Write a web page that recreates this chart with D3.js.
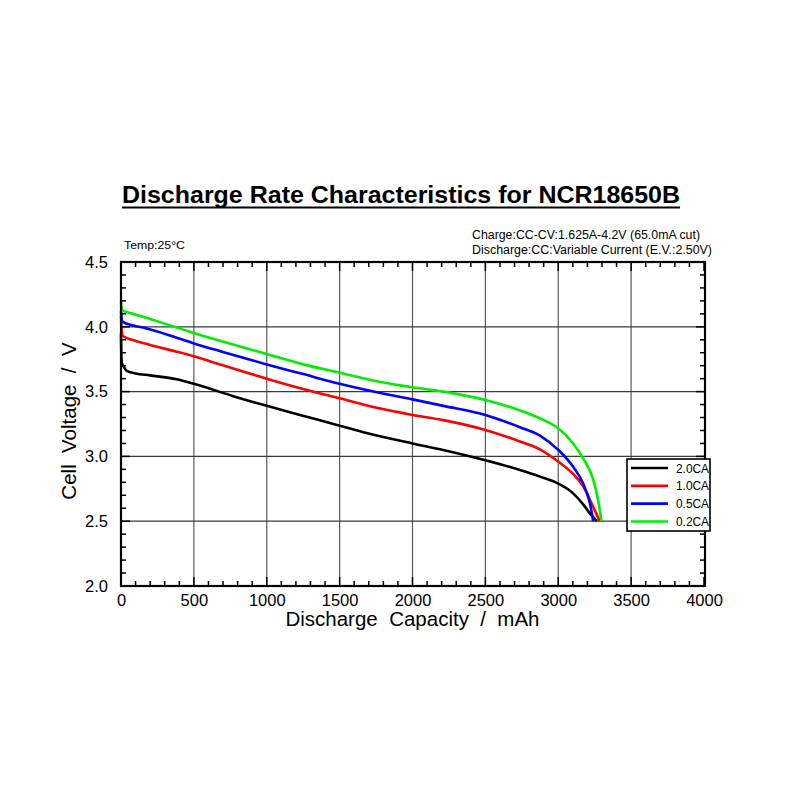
<!DOCTYPE html>
<html>
<head>
<meta charset="utf-8">
<script src="https://cdn.jsdelivr.net/npm/d3@7"></script>
<style>
  html, body { margin: 0; padding: 0; background: #fff; }
  svg { display: block; font-family: "Liberation Sans", Arial, sans-serif; }
</style>
</head>
<body>
<svg id="chart" width="800" height="800"></svg>
<script>
// ---- data ----
const seriesNames = ["2.0CA", "1.0CA", "0.5CA", "0.2CA"];
const seriesColors = ["#000000", "#ff0000", "#0000ff", "#00ee00"];

const capacity2C = [0, 2, 6, 20, 39, 100, 199, 382, 500, 770, 1000, 1228, 1500, 1685, 2000, 2211, 2500, 2737, 2874, 3000, 3102, 3171, 3217, 3265];
const voltage2C  = [3.95, 3.80, 3.72, 3.69, 3.66, 3.64, 3.625, 3.595, 3.56, 3.465, 3.39, 3.32, 3.237, 3.18, 3.10, 3.05, 2.97, 2.895, 2.844, 2.79, 2.715, 2.63, 2.56, 2.50];

const capacity1C = [0, 5, 12, 75, 200, 382, 500, 693, 1000, 1250, 1500, 1754, 2000, 2211, 2500, 2737, 2874, 3000, 3102, 3171, 3240, 3285];
const voltage1C  = [4.09, 3.97, 3.93, 3.90, 3.86, 3.808, 3.772, 3.705, 3.60, 3.52, 3.448, 3.375, 3.32, 3.28, 3.204, 3.115, 3.055, 2.96, 2.865, 2.77, 2.61, 2.50];

const capacity05C = [0, 3, 10, 84, 165, 382, 500, 693, 1000, 1250, 1500, 1754, 2000, 2211, 2500, 2737, 2874, 3000, 3102, 3171, 3217, 3240];
const voltage05C  = [4.12, 4.08, 4.04, 4.01, 3.99, 3.915, 3.872, 3.808, 3.71, 3.635, 3.56, 3.495, 3.44, 3.39, 3.32, 3.225, 3.16, 3.05, 2.92, 2.79, 2.64, 2.50];

const capacity02C = [0, 8, 84, 200, 382, 500, 693, 1000, 1250, 1500, 1754, 2000, 2211, 2500, 2737, 2874, 3000, 3102, 3171, 3240, 3274, 3297];
const voltage02C  = [4.19, 4.13, 4.10, 4.06, 3.995, 3.953, 3.888, 3.79, 3.71, 3.646, 3.58, 3.533, 3.50, 3.435, 3.355, 3.294, 3.217, 3.10, 2.985, 2.82, 2.66, 2.50];

const xTicks = [0, 500, 1000, 1500, 2000, 2500, 3000, 3500, 4000];
const yTicks = [2.0, 2.5, 3.0, 3.5, 4.0, 4.5];

const titleText = "Discharge Rate Characteristics for NCR18650B";
const xTitle = "Discharge  Capacity  /  mAh";
const yTitle = "Cell  Voltage  /  V";
const tempText = "Temp:25\u00B0C";
const chargeText = "Charge:CC-CV:1.625A-4.2V (65.0mA cut)";
const dischargeText = "Discharge:CC:Variable Current (E.V.:2.50V)";

const seriesCap = [capacity2C, capacity1C, capacity05C, capacity02C];
const seriesVolt = [voltage2C, voltage1C, voltage05C, voltage02C];

// ---- drawing ----
const svg = d3.select("#chart");
const x = d3.scaleLinear().domain([0, 4000]).range([121, 704]);
const y = d3.scaleLinear().domain([2.0, 4.5]).range([586, 262]);

// gridlines
const grid = svg.append("g");
grid.selectAll("line.vx").data(xTicks.slice(1, -1)).join("line")
  .attr("x1", d => x(d)).attr("x2", d => x(d))
  .attr("y1", y(2.0)).attr("y2", y(4.5))
  .attr("stroke", "#5a5a5a").attr("stroke-width", 1.2);
grid.selectAll("line.hy").data(yTicks.slice(1, -1)).join("line")
  .attr("x1", x(0)).attr("x2", x(4000))
  .attr("y1", d => y(d)).attr("y2", d => y(d))
  .attr("stroke", "#3a3a3a").attr("stroke-width", 1.2);

// curves
const line = d3.line().x(d => x(d[0])).y(d => y(d[1])).curve(d3.curveMonotoneX);
const curves = svg.append("g");
for (let i = 0; i < seriesNames.length; i++) {
  const pts = seriesCap[i].map((c, j) => [c, seriesVolt[i][j]]);
  curves.append("path").datum(pts)
    .attr("d", line)
    .attr("fill", "none")
    .attr("stroke", seriesColors[i])
    .attr("stroke-width", 2.6)
    .attr("stroke-linejoin", "round");
}

// axes (bottom, left)
const minorX = d3.range(0, 4001, 100);
const minorY = d3.range(20, 46, 1).map(v => v / 10);

const axB = d3.axisBottom(x).tickValues(xTicks).tickSize(0).tickPadding(8).tickFormat(d3.format("d"));
const gB = svg.append("g").attr("transform", `translate(0,${y(2.0)})`).call(axB);
gB.select(".domain").remove();
gB.selectAll("text").attr("font-size", "16.5px").attr("fill", "#000").attr("font-family", "Liberation Sans, Arial, sans-serif");

const axL = d3.axisLeft(y).tickValues(yTicks).tickSize(0).tickPadding(13).tickFormat(d3.format(".1f"));
const gL = svg.append("g").attr("transform", `translate(${x(0)},0)`).call(axL);
gL.select(".domain").remove();
gL.selectAll("text").attr("font-size", "16.5px").attr("fill", "#000").attr("font-family", "Liberation Sans, Arial, sans-serif");

// minor ticks (inward)
const tk = svg.append("g").attr("stroke", "#000").attr("stroke-width", 1.5);
tk.selectAll("line.bt").data(minorX).join("line")
  .attr("x1", d => x(d)).attr("x2", d => x(d))
  .attr("y1", y(2.0)).attr("y2", d => y(2.0) - (d % 500 === 0 ? 9 : 5));
tk.selectAll("line.tt").data(minorX).join("line")
  .attr("x1", d => x(d)).attr("x2", d => x(d))
  .attr("y1", y(4.5)).attr("y2", d => y(4.5) + (d % 500 === 0 ? 9 : 5));
tk.selectAll("line.lt").data(minorY).join("line")
  .attr("x1", x(0)).attr("x2", d => x(0) + (Math.round(d * 10) % 5 === 0 ? 9 : 5))
  .attr("y1", d => y(d)).attr("y2", d => y(d));
tk.selectAll("line.rt").data(minorY).join("line")
  .attr("x1", x(4000) + 1).attr("x2", d => x(4000) + 1 - (Math.round(d * 10) % 5 === 0 ? 9 : 5))
  .attr("y1", d => y(d)).attr("y2", d => y(d));

// frame
svg.append("rect")
  .attr("x", x(0)).attr("y", y(4.5))
  .attr("width", x(4000) + 1 - x(0)).attr("height", y(2.0) - y(4.5))
  .attr("fill", "none").attr("stroke", "#000").attr("stroke-width", 2.2);

// axis titles
svg.append("text")
  .attr("x", (x(0) + x(4000)) / 2).attr("y", 626)
  .attr("text-anchor", "middle").attr("font-size", "20.5px")
  .style("white-space", "pre").text(xTitle);
svg.append("text")
  .attr("transform", `translate(76,${421}) rotate(-90)`)
  .attr("text-anchor", "middle").attr("font-size", "20.5px")
  .style("white-space", "pre").text(yTitle);

// title
svg.append("text")
  .attr("x", 122).attr("y", 203)
  .attr("font-size", "23px").attr("font-weight", "bold")
  .attr("textLength", 558).attr("lengthAdjust", "spacingAndGlyphs")
  .text(titleText);
svg.append("line").attr("x1", 122).attr("x2", 680).attr("y1", 207.5).attr("y2", 207.5)
  .attr("stroke", "#000").attr("stroke-width", 1.8);

// annotations
svg.append("text").attr("x", 124).attr("y", 249).attr("font-size", "11.5px")
  .attr("textLength", 61).attr("lengthAdjust", "spacingAndGlyphs").text(tempText);
svg.append("text").attr("x", 472).attr("y", 238.5).attr("font-size", "12px")
  .attr("textLength", 228).attr("lengthAdjust", "spacingAndGlyphs").text(chargeText);
svg.append("text").attr("x", 472).attr("y", 253.5).attr("font-size", "12px")
  .attr("textLength", 240).attr("lengthAdjust", "spacingAndGlyphs").text(dischargeText);

// legend
const lg = svg.append("g");
lg.append("rect").attr("x", 627).attr("y", 459).attr("width", 83).attr("height", 72)
  .attr("fill", "#fff").attr("stroke", "#000").attr("stroke-width", 1.6);
const rowY = d3.scalePoint().domain(seriesNames).range([468, 521.5]);
const rows = lg.selectAll("g.row").data(seriesNames).join("g");
rows.append("line")
  .attr("x1", 631).attr("x2", 668)
  .attr("y1", d => rowY(d)).attr("y2", d => rowY(d))
  .attr("stroke", (d, i) => seriesColors[i]).attr("stroke-width", 2.6);
rows.append("text")
  .attr("x", 676).attr("y", d => rowY(d) + 4.5)
  .attr("font-size", "12.5px")
  .attr("textLength", 33).attr("lengthAdjust", "spacingAndGlyphs")
  .text(d => d);
</script>
</body>
</html>
